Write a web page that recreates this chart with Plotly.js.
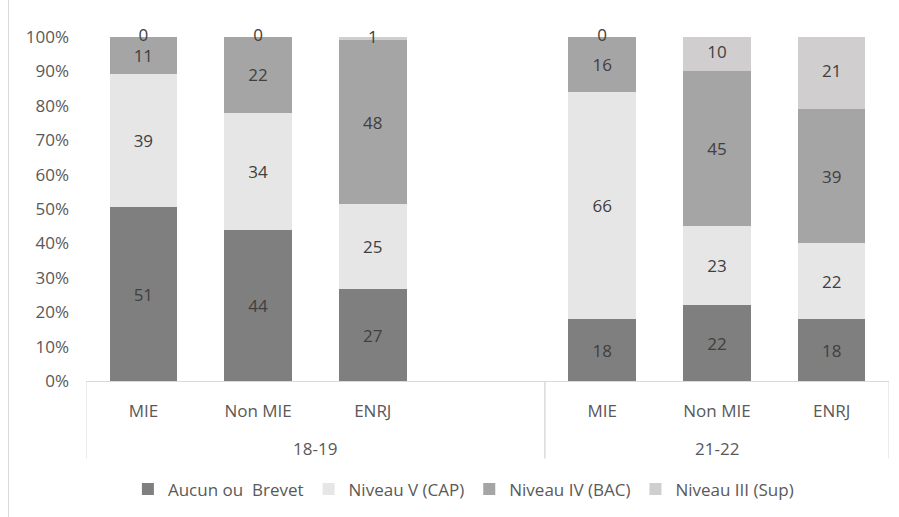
<!DOCTYPE html>
<html>
<head>
<meta charset="utf-8">
<script src="https://cdn.plot.ly/plotly-3.0.1.min.js"></script>
<style>
  html, body { margin: 0; padding: 0; background: #ffffff; }
  #wrap { position: relative; width: 899px; height: 517px; }
  #chart { width: 899px; height: 517px; }
  #edge { position: absolute; left: 8px; top: 0; width: 1px; height: 517px; background: #d9d9d9; }
</style>
</head>
<body>
<div id="wrap">
  <div id="chart"></div>
  <div id="edge"></div>
</div>
<script>
// ---- data ----
const periods = ["18-19", "18-19", "18-19", "18-19", "21-22", "21-22", "21-22"];
const groups  = ["MIE", "Non MIE", "ENRJ", "", "MIE", "Non MIE", "ENRJ"];
const seriesNames = ["Aucun ou\u00a0 Brevet", "Niveau V (CAP)", "Niveau IV (BAC)", "Niveau III (Sup)"];
const aucun  = [51, 44, 27, null, 18, 22, 18];
const niv5   = [39, 34, 25, null, 66, 23, 22];
const niv4   = [11, 22, 48, null, 16, 45, 39];
const niv3   = [0, 0, 1, null, 0, 10, 21];
const colors = ["#7f7f7f", "#e7e6e6", "#a5a5a5", "#d0cece"];

const allSeries = [aucun, niv5, niv4, niv3];
// unique category keys, displayed with the group names
const keys = periods.map((p, k) => p + "|" + groups[k] + "|" + k);
const FAMILY = "Open Sans, Noto Sans, sans-serif";
const labelFont = { family: FAMILY, size: 17, color: "#404040" };
const axisGray = "#d9d9d9";

const traces = allSeries.map((vals, i) => ({
  type: "bar",
  name: seriesNames[i],
  x: keys,
  y: vals,
  marker: { color: colors[i], line: { width: 0 } },
  text: i < 3 ? vals.map(v => v === null ? "" : String(v)) : undefined,
  textposition: i < 3 ? "inside" : "none",
  insidetextanchor: "middle",
  textangle: 0,
  textfont: labelFont,
  insidetextfont: labelFont,
  hoverinfo: "skip"
}));

// labels of the top series (some are zero-height): placed at the middle of each top segment
const totals = aucun.map((v, k) => v === null ? null : aucun[k] + niv5[k] + niv4[k] + niv3[k]);
const topY = niv3.map((v, k) => v === null ? null : 100 * (totals[k] - v / 2) / totals[k]);
traces.push({
  type: "scatter",
  mode: "text",
  x: keys,
  y: topY,
  text: niv3.map(v => v === null ? "" : String(v)),
  textposition: "middle center",
  textfont: labelFont,
  showlegend: false,
  hoverinfo: "skip",
  cliponaxis: false
});

// period groups: label in the middle of each group, dividers at group boundaries
const periodNames = [...new Set(periods)];
const annotations = [];
const shapes = [];
const divY = -0.225;
periodNames.forEach((p) => {
  const idx = periods.map((q, k) => q === p ? k : -1).filter(k => k >= 0);
  const first = idx[0], last = idx[idx.length - 1];
  annotations.push({
    xref: "x", yref: "paper",
    x: (first + last) / 2, y: -0.197,
    text: p, showarrow: false,
    xanchor: "center", yanchor: "middle",
    font: { family: FAMILY, size: 17, color: "#595959" }
  });
  [first - 0.5, last + 0.5].forEach(b => shapes.push({
    type: "line", xref: "x", yref: "paper",
    x0: b, x1: b, y0: 0, y1: divY,
    line: { color: axisGray, width: 1 }
  }));
});

const layout = {
  width: 899,
  height: 517,
  margin: { l: 86, r: 10, t: 37, b: 134 },
  paper_bgcolor: "#ffffff",
  plot_bgcolor: "#ffffff",
  barmode: "stack",
  barnorm: "percent",
  bargap: 0.41,
  hovermode: false,
  font: { family: FAMILY, size: 17, color: "#595959" },
  xaxis: {
    type: "category",
    tickmode: "array",
    tickvals: keys,
    ticktext: groups,
    range: [-0.5, keys.length - 0.5],
    showline: true,
    linecolor: axisGray,
    linewidth: 1,
    showgrid: false,
    zeroline: false,
    ticks: "",
    ticklabelstandoff: 15,
    tickfont: { family: FAMILY, size: 17, color: "#595959" }
  },
  yaxis: {
    range: [0, 100],
    dtick: 10,
    ticksuffix: "%",
    showgrid: false,
    zeroline: false,
    showline: false,
    ticks: "",
    ticklabelstandoff: 16,
    tickfont: { family: FAMILY, size: 17, color: "#595959" }
  },
  annotations: annotations,
  shapes: shapes,
  showlegend: true,
  legend: {
    orientation: "h",
    x: 0.47,
    xanchor: "center",
    y: -0.315,
    yanchor: "middle",
    font: { family: FAMILY, size: 17, color: "#595959" },
    traceorder: "normal"
  }
};

Plotly.newPlot("chart", traces, layout, { displayModeBar: false, staticPlot: true });
</script>
</body>
</html>
